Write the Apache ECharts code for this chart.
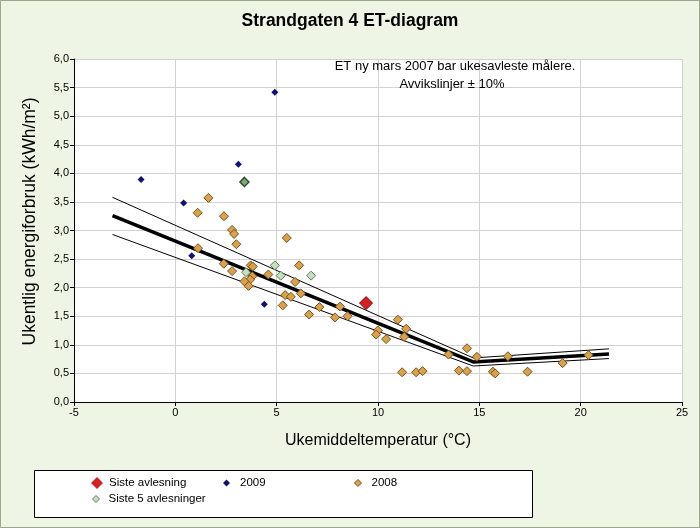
<!DOCTYPE html>
<html>
<head>
<meta charset="utf-8">
<script src="https://cdn.jsdelivr.net/npm/echarts@6/dist/echarts.min.js"></script>
<style>
html,body{margin:0;padding:0;background:#eff5e4;}
#chart{width:700px;height:528px;}
</style>
</head>
<body>
<div id="chart"></div>
<script>
// ---- data ----
var titleText = 'Strandgaten 4 ET-diagram';
var noteLines = ['ET ny mars 2007 bar ukesavleste målere.', 'Avvikslinjer ± 10%'];
var xAxisTitle = 'Ukemiddeltemperatur (°C)';
var yAxisTitle = 'Ukentlig energiforbruk (kWh/m²)';

var etLine    = [[-3.1, 3.26], [14.7, 0.70], [21.4, 0.84]];
var etUpper   = [[-3.1, 3.58], [14.7, 0.77], [21.4, 0.93]];
var etLower   = [[-3.1, 2.93], [14.7, 0.63], [21.4, 0.76]];

var sisteAvlesning = [[9.41, 1.73]];
var data2009 = [[-1.69, 3.89], [0.41, 3.48], [0.81, 2.56], [3.11, 4.16], [4.91, 5.42], [4.39, 1.71], [3.41, 3.85]];
var data2008 = [
  [1.63, 3.57], [1.10, 3.31], [2.40, 3.25], [2.80, 3.01], [2.90, 2.94], [3.01, 2.76],
  [1.12, 2.69], [5.50, 2.87], [2.39, 2.42], [2.80, 2.29], [3.72, 2.39], [3.82, 2.37],
  [3.80, 2.20], [3.69, 2.14], [3.41, 2.11], [3.62, 2.03], [4.59, 2.23], [6.11, 2.39],
  [5.91, 2.10], [5.42, 1.87], [5.70, 1.84], [6.19, 1.90], [5.30, 1.69], [6.60, 1.53],
  [7.11, 1.66], [8.13, 1.67], [7.88, 1.48], [8.50, 1.50], [10.98, 1.44], [9.99, 1.25],
  [9.91, 1.18], [10.40, 1.10], [11.39, 1.28], [11.29, 1.14], [13.48, 0.83], [14.39, 0.94],
  [14.88, 0.79], [11.19, 0.52], [11.88, 0.52], [12.20, 0.54], [13.99, 0.55], [14.39, 0.54],
  [15.67, 0.53], [15.78, 0.50], [16.41, 0.80], [17.38, 0.53], [19.11, 0.68], [20.39, 0.82]
];
var siste5 = [[3.41, 3.85], [3.49, 2.27], [4.91, 2.39], [5.20, 2.21], [6.70, 2.21]];

var legendNames = ['Siste avlesning', '2009', '2008', 'Siste 5 avlesninger'];

// ---- chart ----
var FONT = '"Liberation Sans", Arial, sans-serif';
var chart = echarts.init(document.getElementById('chart'), null, {renderer: 'canvas'});

function lineSeries(name, data, width) {
  return {
    name: name, type: 'line', data: data, showSymbol: false, symbol: 'none',
    lineStyle: {color: '#000', width: width}, silent: true, z: 2, animation: false
  };
}

function inList(p, list) {
  for (var i = 0; i < list.length; i++) {
    if (list[i][0] === p[0] && list[i][1] === p[1]) return true;
  }
  return false;
}

// a "last 5" point drawn over a 2009 point looks darker in the reference
var siste5Items = siste5.map(function (p) {
  if (inList(p, data2009)) {
    return {value: p, itemStyle: {color: '#7fa878', borderColor: '#2d4a2d', borderWidth: 1.5}};
  }
  return {value: p};
});

function legendText(pad) {
  return {fontFamily: FONT, fontSize: 11.5, color: '#000', padding: [0, 0, 0, pad]};
}

var legendBase = {orient: 'horizontal', itemGap: 6, selectedMode: false};

var option = {
  backgroundColor: '#eff5e4',
  animation: false,
  textStyle: {fontFamily: FONT},
  title: {
    text: titleText, left: 'center', top: 7,
    textStyle: {fontFamily: FONT, fontSize: 17.5, fontWeight: 'bold', color: '#000'}
  },
  grid: {left: 74, right: 18, top: 59, bottom: 126, backgroundColor: '#fff', show: true, borderWidth: 0},
  xAxis: {
    type: 'value', min: -5, max: 25, interval: 5,
    name: xAxisTitle, nameLocation: 'middle', nameGap: 31,
    nameTextStyle: {fontFamily: FONT, fontSize: 16, color: '#000'},
    axisLine: {show: true, onZero: false, lineStyle: {color: '#000', width: 1}},
    axisTick: {show: true, length: 4, lineStyle: {color: '#000'}},
    axisLabel: {fontFamily: FONT, fontSize: 11, color: '#000', margin: 5},
    splitLine: {show: true, lineStyle: {color: '#d2d2d2', width: 1}}
  },
  yAxis: {
    type: 'value', min: 0, max: 6, interval: 0.5,
    name: yAxisTitle, nameLocation: 'middle', nameGap: 35,
    nameTextStyle: {fontFamily: FONT, fontSize: 17.5, color: '#000', padding: [0, 0, 0, 18]},
    axisLine: {show: true, onZero: false, lineStyle: {color: '#000', width: 1}},
    axisTick: {show: true, length: 4, lineStyle: {color: '#000'}},
    axisLabel: {fontFamily: FONT, fontSize: 11, color: '#000', margin: 5,
      formatter: function (v) { return v.toFixed(1).replace('.', ','); }},
    splitLine: {show: true, lineStyle: {color: '#d2d2d2', width: 1}}
  },
  legend: [
    Object.assign({}, legendBase, {data: [{name: legendNames[0], icon: 'diamond', itemStyle: {color: '#d42020', borderColor: '#8a0000', borderWidth: 0}}], left: 86, top: 472, itemWidth: 12, itemHeight: 12, textStyle: legendText(1)}),
    Object.assign({}, legendBase, {data: [{name: legendNames[1], icon: 'diamond', itemStyle: {color: '#10107a', borderWidth: 0}}], left: 218, top: 472, itemWidth: 7, itemHeight: 7, textStyle: legendText(5)}),
    Object.assign({}, legendBase, {data: [{name: legendNames[2], icon: 'diamond', itemStyle: {color: '#d9a24a', borderColor: '#7a5020', borderWidth: 1}}], left: 349, top: 472, itemWidth: 7, itemHeight: 7, textStyle: legendText(5)}),
    Object.assign({}, legendBase, {data: [{name: legendNames[3], icon: 'diamond', itemStyle: {color: '#c4e0bc', borderColor: '#607860', borderWidth: 1}}], left: 87, top: 488, itemWidth: 7, itemHeight: 7, textStyle: legendText(4)})
  ],
  graphic: [
    {type: 'rect', shape: {x: 0.5, y: 0.5, width: 699, height: 527}, style: {fill: 'none', stroke: '#9aa88c', lineWidth: 1}, z: 100},
    {type: 'rect', shape: {x: 34.5, y: 470.5, width: 498, height: 47}, style: {fill: '#fff', stroke: '#000', lineWidth: 1}, z: -1},
    {type: 'text', style: {text: noteLines[0], fill: '#000', font: '13px ' + FONT, textAlign: 'center'}, position: [455, 60], z: 10},
    {type: 'text', style: {text: noteLines[1], fill: '#000', font: '13px ' + FONT, textAlign: 'center'}, position: [452, 78], z: 10}
  ],
  series: [
    lineSeries('ET', etLine, 3.5),
    lineSeries('Upper', etUpper, 1),
    lineSeries('Lower', etLower, 1),
    {
      name: legendNames[2], type: 'scatter', data: data2008, symbol: 'diamond', symbolSize: 9,
      itemStyle: {color: '#d9a24a', borderColor: '#7a5020', borderWidth: 1, opacity: 1}, z: 3
    },
    {
      name: legendNames[1], type: 'scatter', data: data2009, symbol: 'diamond', symbolSize: 7,
      itemStyle: {color: '#10107a', borderWidth: 0, opacity: 1}, z: 4
    },
    {
      name: legendNames[3], type: 'scatter', data: siste5Items, symbol: 'diamond', symbolSize: 9,
      itemStyle: {color: '#c4e0bc', borderColor: '#607860', borderWidth: 1, opacity: 1}, z: 5
    },
    {
      name: legendNames[0], type: 'scatter', data: sisteAvlesning, symbol: 'diamond', symbolSize: 13,
      itemStyle: {color: '#d42020', borderColor: '#8a0000', borderWidth: 1, opacity: 1}, z: 6
    }
  ]
};
chart.setOption(option);
</script>
</body>
</html>
